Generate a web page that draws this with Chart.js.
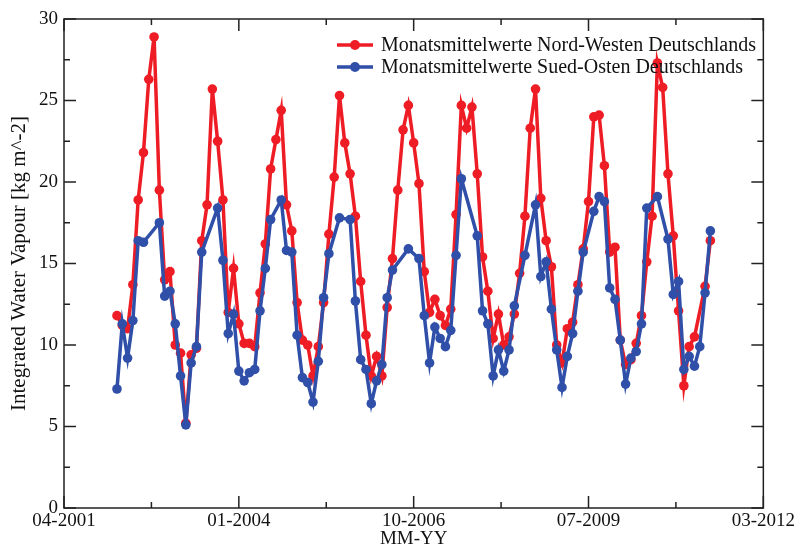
<!DOCTYPE html>
<html>
<head>
<meta charset="utf-8">
<script src="https://cdn.jsdelivr.net/npm/chart.js@4/dist/chart.umd.min.js"></script>
<style>
  html, body { margin: 0; padding: 0; background: #fff; }
  #wrap { width: 797px; height: 552px; }
</style>
</head>
<body>
<div id="wrap"><canvas id="graficoIWV" width="797" height="552"></canvas></div>
<script>
// x: Monate nach 04-2001
var tickMonate = [0, 33, 66, 99, 132];
var tickLabels = ["04-2001", "01-2004", "10-2006", "07-2009", "03-2012"];
var ersterMonat = 10;

var nordWesten = [
  11.8, 11.2, 11.0, 13.7, 18.9, 21.8, 26.3, 28.9, 19.5, 14.0, 14.5, 10.0,
  9.5, 5.2, 9.4, 9.8, 16.4, 18.6, 25.7, 22.5, 18.9, 12.0, 14.7, 11.3,
  10.1, 10.1, 9.9, 13.2, 16.2, 20.8, 22.6, 24.4, 18.6, 17.0, 12.6, 10.3,
  10.0, 8.1, 9.9, 12.6, 16.8, 20.3, 25.3, 22.4, 20.5, 17.9, 13.9, 10.6,
  8.1, 9.3, 8.1, 12.3, 15.3, 19.5, 23.2, 24.7, 22.4, 19.9, 14.5, 12.0,
  12.8, 11.8, 11.2, 12.2, 18.0, 24.7, 23.3, 24.6, 20.5, 15.4, 13.3, 10.4,
  11.9, 10.0, 10.5, 11.9, 14.4, 17.9, 23.3, 25.7, 19.0, 16.4, 14.8, 10.0,
  8.9, 11.0, 11.4, 13.7, 15.9, 18.8, 24.0, 24.1, 21.0, 15.7, 16.0, 10.3,
  8.8, 9.1, 10.1, 11.8, 15.1, 17.9, 27.3, 25.8, 20.5, 16.7, 12.1, 7.5,
  9.9, 10.5, null, 13.6, 16.4
];

var suedOsten = [
  7.3, 11.3, 9.2, 11.5, 16.4, 16.3, null, null, 17.5, 13.0, 13.3, 11.3,
  8.1, 5.1, 8.9, 9.9, 15.7, null, null, 18.4, 15.2, 10.7, 11.9, 8.4,
  7.8, 8.3, 8.5, 12.1, 14.7, 17.7, null, 18.9, 15.8, 15.7, 10.6, 8.0,
  7.7, 6.5, 9.0, 12.9, 15.6, null, 17.8, null, 17.7, 12.7, 9.1, 8.5,
  6.4, 7.8, 8.8, 12.9, 14.6, null, null, 15.9, null, 15.3, 11.8, 8.9,
  11.1, 10.4, 9.9, 10.9, 15.5, 20.2, null, null, 16.7, 12.1, 11.3, 8.1,
  9.7, 8.4, 9.7, 12.4, null, 15.5, null, 18.6, 14.2, 15.1, 12.2, 9.7,
  7.4, 9.3, 10.7, 13.3, 15.7, null, 18.2, 19.1, 18.8, 13.5, 12.8, 10.3,
  7.6, 9.2, 9.6, 11.3, 18.4, null, 19.1, null, 16.5, 13.1, 13.9, 8.5,
  9.3, 8.7, 9.9, 13.2, 17.0
];

var rot = "#ee1c24";
var blau = "#2f4fa8";
var schrift = "'Liberation Serif', 'DejaVu Serif', serif";

function punkte(werte) {
  return werte.map(function (v, i) {
    return { x: ersterMonat + i, y: v };
  });
}

// Rahmen mit Ticks nach innen, Legende oben rechts
var rahmen = {
  id: "rahmen",
  afterDraw: function (chart) {
    var ctx = chart.ctx;
    var a = chart.chartArea;
    var sx = chart.scales.x;
    var sy = chart.scales.y;
    ctx.save();
    ctx.strokeStyle = "#222";
    ctx.lineWidth = 1.5;
    ctx.strokeRect(a.left, a.top, a.right - a.left, a.bottom - a.top);
    ctx.beginPath();
    for (var m = 0; m <= 132; m += 16.5) {
      var px = sx.getPixelForValue(m);
      var len = m % 33 === 0 ? 12 : 6;
      ctx.moveTo(px, a.bottom);
      ctx.lineTo(px, a.bottom - len);
      ctx.moveTo(px, a.top);
      ctx.lineTo(px, a.top + len);
    }
    for (var v = 0; v <= 30; v += 2.5) {
      var py = sy.getPixelForValue(v);
      var l2 = v % 5 === 0 ? 12 : 6;
      ctx.moveTo(a.left, py);
      ctx.lineTo(a.left + l2, py);
      ctx.moveTo(a.right, py);
      ctx.lineTo(a.right - l2, py);
    }
    ctx.stroke();

    // Legende
    ctx.font = "20px " + schrift;
    ctx.textBaseline = "middle";
    chart.data.datasets.forEach(function (ds, i) {
      var y0 = 45 + i * 22;
      ctx.strokeStyle = ds.borderColor;
      ctx.lineWidth = 3.5;
      ctx.beginPath();
      ctx.moveTo(337, y0);
      ctx.lineTo(373, y0);
      ctx.stroke();
      ctx.fillStyle = ds.borderColor;
      ctx.beginPath();
      ctx.arc(355, y0, 5, 0, Math.PI * 2);
      ctx.fill();
      ctx.fillStyle = "#111";
      ctx.fillText(ds.label, 381, y0 + 1);
    });
    ctx.restore();
  }
};

var el = document.getElementById("graficoIWV");
new Chart(el, {
  type: "line",
  data: {
    datasets: [
      {
        label: "Monatsmittelwerte Nord-Westen Deutschlands",
        data: punkte(nordWesten),
        borderColor: rot,
        backgroundColor: rot,
        borderWidth: 3.5,
        pointRadius: 4.8,
        pointBorderWidth: 0,
        spanGaps: true,
        fill: false,
        order: 2
      },
      {
        label: "Monatsmittelwerte Sued-Osten Deutschlands",
        data: punkte(suedOsten),
        borderColor: blau,
        backgroundColor: blau,
        borderWidth: 3.5,
        pointRadius: 4.8,
        pointBorderWidth: 0,
        spanGaps: true,
        fill: false,
        order: 1
      }
    ]
  },
  plugins: [rahmen],
  options: {
    responsive: false,
    animation: false,
    devicePixelRatio: 1,
    layout: { padding: { top: 19, right: 31, left: 0, bottom: 0 } },
    plugins: {
      legend: { display: false },
      tooltip: { enabled: false }
    },
    scales: {
      x: {
        type: "linear",
        min: 0,
        max: 132,
        afterBuildTicks: function (scale) {
          scale.ticks = tickMonate.map(function (m) { return { value: m }; });
        },
        afterFit: function (scale) { scale.height = 44; },
        ticks: {
          color: "#111",
          font: { family: schrift, size: 19 },
          padding: 2,
          maxRotation: 0,
          autoSkip: false,
          callback: function (v, i) { return tickLabels[i]; }
        },
        grid: { display: false, drawTicks: false },
        border: { display: false },
        title: {
          display: true,
          text: "MM-YY",
          color: "#111",
          font: { family: schrift, size: 19 },
          padding: { top: 0, bottom: 2 }
        }
      },
      y: {
        min: 0,
        max: 30,
        afterFit: function (scale) { scale.width = 64; },
        ticks: {
          stepSize: 5,
          color: "#111",
          font: { family: schrift, size: 19 },
          padding: 6
        },
        grid: { display: false, drawTicks: false },
        border: { display: false },
        title: {
          display: true,
          text: "Integrated Water Vapour [kg m^-2]",
          color: "#111",
          font: { family: schrift, size: 21 },
          padding: { top: 7, bottom: 0 }
        }
      }
    }
  }
});
</script>
</body>
</html>
